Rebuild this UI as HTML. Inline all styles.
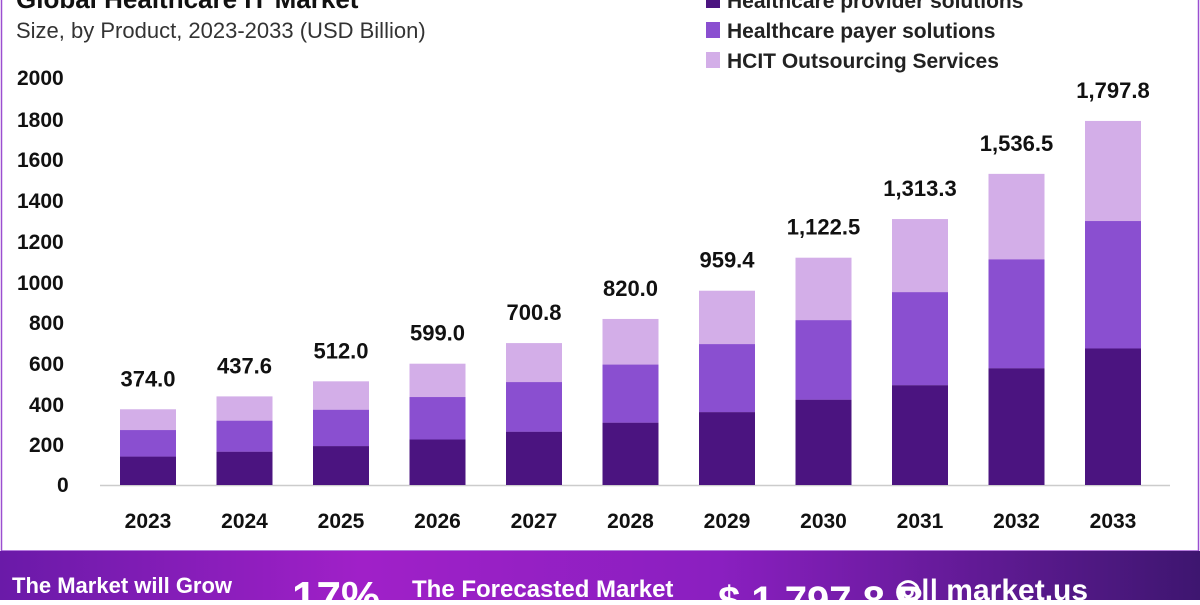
<!DOCTYPE html>
<html><head><meta charset="utf-8"><style>
body{margin:0;width:1200px;height:600px;overflow:hidden;background:#fff;font-family:"Liberation Sans",sans-serif}
</style></head><body>
<svg width="1200" height="600" xmlns="http://www.w3.org/2000/svg" font-family="Liberation Sans, sans-serif">
<defs>
<linearGradient id="bn" x1="0" x2="1" y1="0" y2="0">
<stop offset="0" stop-color="#6a1aa8"/><stop offset="0.3" stop-color="#a020c8"/><stop offset="0.6" stop-color="#8a1fc0"/><stop offset="1" stop-color="#3e1670"/>
</linearGradient>
</defs>
<rect x="1.5" y="-5" width="1197" height="556" fill="none" stroke="#9b4fd0" stroke-width="1.5"/>
<text x="16" y="8" font-size="26" font-weight="bold" fill="#111">Global Healthcare IT Market</text>
<text x="16" y="38" font-size="22" fill="#333">Size, by Product, 2023-2033 (USD Billion)</text>
<rect x="706" y="-8" width="14" height="16" fill="#4b1480"/>
<text x="727" y="8" font-size="21" font-weight="bold" fill="#222">Healthcare provider solutions</text>
<rect x="706" y="22" width="14" height="16" fill="#8a4fd0"/>
<text x="727" y="38" font-size="21" font-weight="bold" fill="#222">Healthcare payer solutions</text>
<rect x="706" y="52" width="14" height="16" fill="#d3aee8"/>
<text x="727" y="68" font-size="21" font-weight="bold" fill="#222">HCIT Outsourcing Services</text>
<g font-size="21" font-weight="bold" fill="#111">
<text x="17" y="85">2000</text><text x="17" y="127">1800</text><text x="17" y="167">1600</text>
<text x="17" y="208">1400</text><text x="17" y="249">1200</text><text x="17" y="290">1000</text>
<text x="29" y="330">800</text><text x="29" y="371">600</text><text x="29" y="412">400</text>
<text x="29" y="452">200</text><text x="57" y="492">0</text>
</g>
<line x1="100" y1="485.5" x2="1170" y2="485.5" stroke="#ccc" stroke-width="1.5"/>
<g id="bars"></g>
<rect x="0" y="551" width="1200" height="49" fill="url(#bn)"/>
<g fill="#fff" font-weight="bold">
<text x="12" y="593" font-size="22">The Market will Grow</text>
<text x="292" y="612" font-size="44">17%</text>
<text x="412" y="597" font-size="24">The Forecasted Market</text>
<text x="718" y="614" font-size="40">$ 1,797.8 B</text>
<text x="895" y="600" font-size="30">◎|| market.us</text>
</g>
</svg>
<script>
var v=[374,437.6,512,599,700.8,820,959.4,1122.5,1313.3,1536.5,1797.8];
var g=document.getElementById('bars'),s='',k=0.2025,b=485;
v.forEach(function(t,i){var cx=148+i*96.5,x=cx-28,h=t*k,d=h*0.375,m=h*0.35;
s+='<rect x="'+x+'" y="'+(b-h)+'" width="56" height="'+h+'" fill="#d3aee8"/>';
s+='<rect x="'+x+'" y="'+(b-d-m)+'" width="56" height="'+m+'" fill="#8a4fd0"/>';
s+='<rect x="'+x+'" y="'+(b-d)+'" width="56" height="'+d+'" fill="#4b1480"/>';
s+='<text x="'+cx+'" y="'+(b-h-23)+'" font-size="22" font-weight="bold" text-anchor="middle" fill="#111">'+t.toLocaleString('en-US',{minimumFractionDigits:1,maximumFractionDigits:1})+'</text>';
s+='<text x="'+cx+'" y="528" font-size="21" font-weight="bold" text-anchor="middle" fill="#111">'+(2023+i)+'</text>';});
g.innerHTML=s;
</script>
</body></html>
